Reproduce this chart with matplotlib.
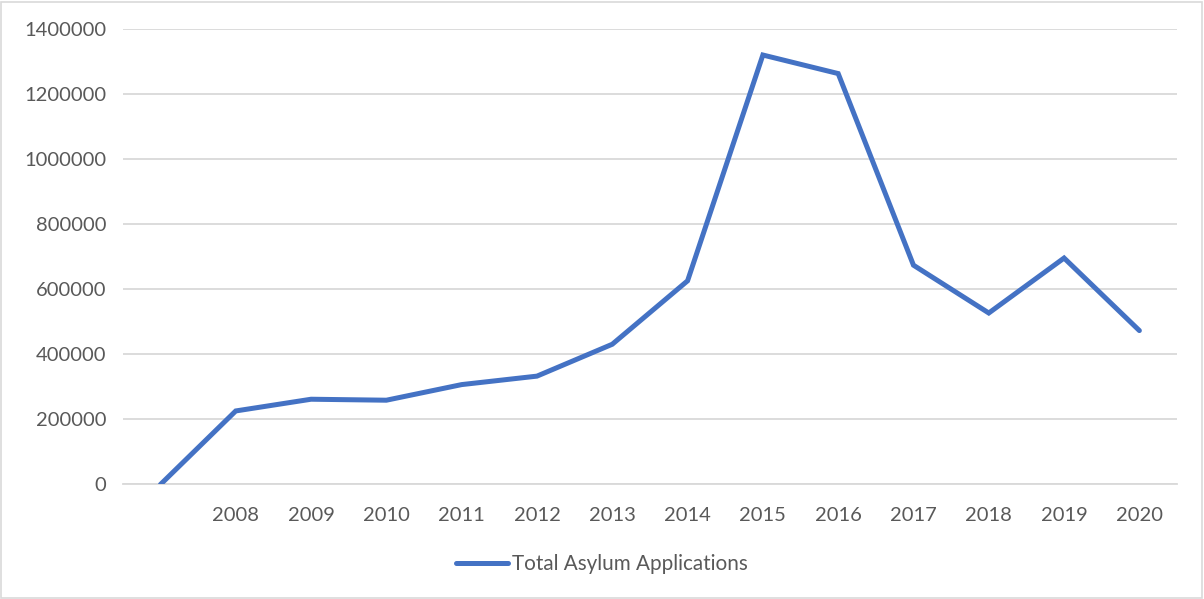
import matplotlib
matplotlib.use("Agg")
import matplotlib.pyplot as plt
from matplotlib.patches import Rectangle

# Yearly totals; the leading blank category carries a zero
years = ["", "2008", "2009", "2010", "2011", "2012", "2013", "2014",
         "2015", "2016", "2017", "2018", "2019", "2020"]
applications = [0, 226000, 262000, 259000, 307000, 333000, 431000, 626000,
                1320000, 1263000, 674000, 527000, 696000, 473000]
y_ticks = [0, 200000, 400000, 600000, 800000, 1000000, 1200000, 1400000]
series_name = "Total Asylum Applications"

plt.rcParams["font.family"] = ["Lato", "DejaVu Sans"]
text_color = "#595959"
grid_color = "#d9d9d9"
line_color = "#4472C4"
font_size = 14.5

fig = plt.figure(figsize=(12.04, 5.99), dpi=100)
ax = fig.add_axes([0.102, 0.1912, 0.8756, 0.7604])

x = list(range(len(years)))
ax.plot(x, applications, color=line_color, linewidth=3.6,
        solid_joinstyle="miter", solid_capstyle="round", label=series_name,
        zorder=3)

ax.set_xlim(-0.5, len(years) - 0.5)
ax.set_ylim(0, 1400000)
ax.set_yticks(y_ticks)
ax.set_yticklabels([str(v) for v in y_ticks])
ax.set_xticks(x)
ax.set_xticklabels(years)

ax.grid(axis="y", color=grid_color, linewidth=1.3, zorder=0)
ax.tick_params(axis="both", length=0, labelsize=font_size, colors=text_color)
ax.tick_params(axis="x", pad=16)
ax.tick_params(axis="y", pad=12)
for side in ["top", "right", "left"]:
    ax.spines[side].set_visible(False)
ax.spines["bottom"].set_color(grid_color)
ax.spines["bottom"].set_linewidth(1.3)

leg = fig.legend(loc="center", bbox_to_anchor=(0.5, 0.058), frameon=False,
                 fontsize=14.9, handlelength=2.5, handletextpad=0.2)
for t in leg.get_texts():
    t.set_color(text_color)

# Thin frame around the whole chart
fig.patches.append(Rectangle((0.001, 0.002), 0.997, 0.995,
                             transform=fig.transFigure, fill=False,
                             edgecolor=grid_color, linewidth=1.2))

fig.savefig("out.png", dpi=100, facecolor="white")
